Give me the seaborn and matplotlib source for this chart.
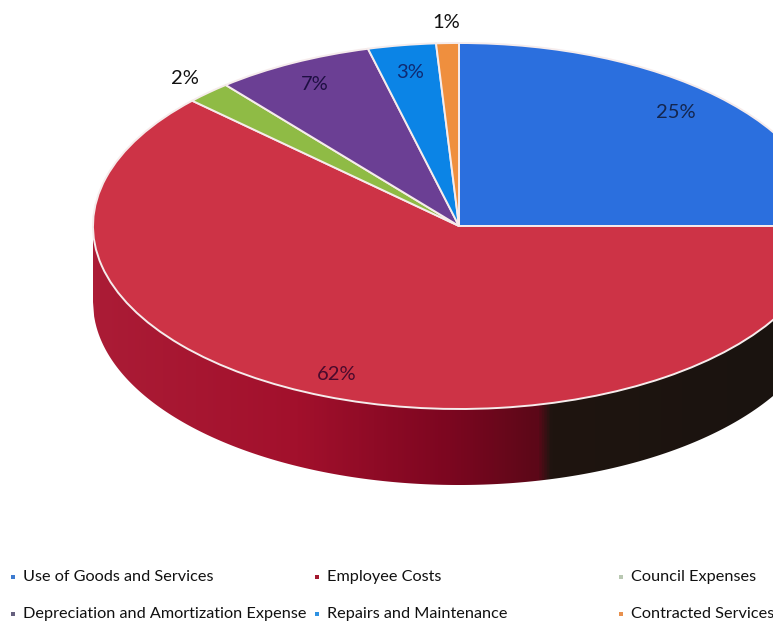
import numpy as np
import matplotlib
matplotlib.use("Agg")
import matplotlib.pyplot as plt
from matplotlib.colors import LinearSegmentedColormap
from matplotlib.patches import Rectangle
import seaborn as sns

categories = ["Use of Goods and Services", "Employee Costs", "Council Expenses",
              "Depreciation and Amortization Expense", "Repairs and Maintenance",
              "Contracted Services"]
shares = [25, 62, 2, 7, 3, 1]
slice_colors = ["#2b6fde", "#cd3346", "#8fbb45", "#6b3f94", "#0b84e6", "#ef8f3e"]
legend_colors = ["#3d7bd0", "#a3182f", "#b9c8b2", "#66607e", "#2f92e2", "#e8914f"]
label_colors = ["#14264e", "#4a0a2c", "#111111", "#1e0f42", "#0f2a72", "#111111"]

sns.set_theme(style="white")
plt.rcParams["font.family"] = ["Lato", "DejaVu Sans"]

W, H = 773, 622
CX, CY, RX, RY, DEPTH = 459, 226, 366, 183, 76

fig = plt.figure(figsize=(W / 100, H / 100), dpi=100)
ax = fig.add_axes([0, 0, 1, 1])


def to_pie(px, py):
    """Pixel position on the canvas to unit-circle coordinates of the pie."""
    return (px - CX) / RX, (CY - py) / RY


# Top face, squashed into an ellipse by releasing the equal aspect below
ax.pie(shares, colors=slice_colors, startangle=90, counterclock=False, radius=1,
       wedgeprops=dict(edgecolor="#f6ecec", linewidth=1.4, zorder=3))
ax.set_aspect("auto")
x_min, x_max = -CX / RX, (W - CX) / RX
y_min, y_max = (CY - H) / RY, CY / RY

# Side wall: a horizontal gradient clipped to the band under the front rim
wall_cmap = LinearSegmentedColormap.from_list(
    "wall",
    [(0.00, "#ab1c36"), (0.30, "#a2102c"), (0.525, "#7c0620"), (0.655, "#5c0818"),
     (0.675, "#1f1510"), (1.00, "#1a130f")],
)
depth = DEPTH / RY
rim_x = np.linspace(-1, x_max, 600)
rim_y = -np.sqrt(np.clip(1 - rim_x ** 2, 0, None))
band = ax.fill_between(rim_x, rim_y, rim_y - depth, color="none", linewidth=0, zorder=1)
gradient = np.linspace(0, 1, 800)[np.newaxis, :]
wall = ax.imshow(gradient, cmap=wall_cmap, extent=(-1, x_max, y_min, y_max),
                 aspect="auto", zorder=1, interpolation="bilinear")
wall.set_clip_path(band.get_paths()[0], transform=ax.transData)
ax.set_xlim(x_min, x_max)
ax.set_ylim(y_min, y_max)

# Percentage labels
label_spots = [(676, 113), (337, 375), (185, 79), (315, 85), (410, 72), (446, 23)]
for share, spot, color in zip(shares, label_spots, label_colors):
    x, y = to_pie(*spot)
    ax.text(x, y, f"{share}%", ha="center", va="center", fontsize=14.5, color=color, zorder=5)

# Legend laid out as two rows of three columns along the bottom
columns = [11, 315, 619]
rows = [577, 614]
for i, (name, color) in enumerate(zip(categories, legend_colors)):
    px, py = columns[i % 3], rows[i // 3]
    fig.add_artist(Rectangle((px / W, 1 - (py + 2) / H), 4 / W, 4 / H,
                             transform=fig.transFigure, color=color, linewidth=0))
    fig.text((px + 12) / W, 1 - py / H, name, ha="left", va="center",
             fontsize=11.7, color="#111111")

fig.savefig("out.png", dpi=100, facecolor="white")
